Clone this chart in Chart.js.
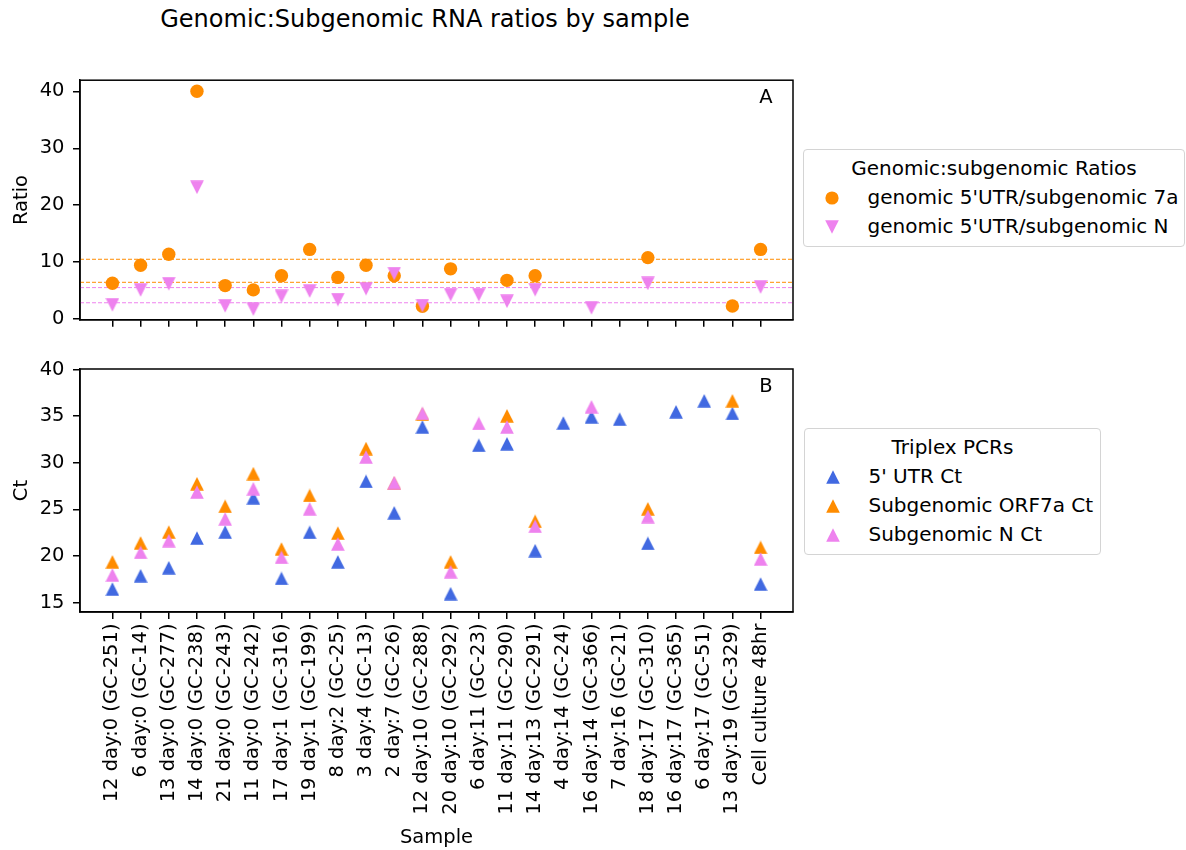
<!DOCTYPE html>
<html>
<head>
<meta charset="utf-8">
<title>Genomic:Subgenomic RNA ratios by sample</title>
<script src="https://cdn.jsdelivr.net/npm/chart.js@4"></script>
<style>
  html, body { margin: 0; padding: 0; background: #fff; }
  #page { position: relative; width: 1186px; height: 850px; font-family: "DejaVu Sans", sans-serif; color: #000; overflow: hidden; }
  #title { position: absolute; left: 0; top: 5px; width: 850px; text-align: center; font-size: 24px; line-height: 28px; }
  #page > canvas { position: absolute; left: 0; }
  .legend { position: absolute; box-sizing: border-box; border: 1.5px solid #d4d4d4; border-radius: 4px; padding: 4px 0 5px 0; font-size: 20px; line-height: 29px; background: #fff; }
  .legend .title { text-align: center; }
  .legend .row { position: relative; padding-left: 63.5px; white-space: nowrap; }
  .legend .row canvas { position: absolute; left: 20.5px; top: 7.5px; }
</style>
</head>
<body>
<div id="page">
  <div id="title">Genomic:Subgenomic RNA ratios by sample</div>
  <canvas id="ratioChart" width="800" height="280" style="top:60px"></canvas>
  <canvas id="ctChart" width="800" height="510" style="top:340px"></canvas>
  <div id="ratioLegend" class="legend" style="left:803px;top:149px;width:382px"></div>
  <div id="ctLegend" class="legend" style="left:804px;top:428px;width:297px"></div>
</div>
<script>
// Sample names along the shared x axis
var sampleLabels = [
  '12 day:0 (GC-251)', '6 day:0 (GC-14)', '13 day:0 (GC-277)', '14 day:0 (GC-238)',
  '21 day:0 (GC-243)', '11 day:0 (GC-242)', '17 day:1 (GC-316)', '19 day:1 (GC-199)',
  '8 day:2 (GC-25)', '3 day:4 (GC-13)', '2 day:7 (GC-26)', '12 day:10 (GC-288)',
  '20 day:10 (GC-292)', '6 day:11 (GC-23)', '11 day:11 (GC-290)', '14 day:13 (GC-291)',
  '4 day:14 (GC-24)', '16 day:14 (GC-366)', '7 day:16 (GC-21)', '18 day:17 (GC-310)',
  '16 day:17 (GC-365)', '6 day:17 (GC-51)', '13 day:19 (GC-329)', 'Cell culture 48hr'
];

// Panel A: genomic / subgenomic ratios (null = no value)
var ratio7a = [6.3, 9.48, 11.39, 40.0, 5.9, 5.15, 7.63, 12.25, 7.34, 9.48, 7.63, 2.26,
               8.84, null, 6.82, 7.63, null, null, null, 10.81, null, null, 2.32, 12.25];
var ratioN = [2.52, 5.12, 6.22, 23.14, 2.35, 1.77, 4.02, 4.94, 3.44, 5.35, 8.01, 2.4,
              4.31, 4.31, 3.15, 5.18, null, 2.0, null, 6.27, null, null, null, 5.64];
// dashed reference levels across panel A
var ratio7aLines = [10.52, 6.48];
var ratioNLines = [5.55, 2.89];

// Panel B: triplex PCR Ct values
var ctUTR = [16.45, 17.88, 18.74, 21.92, 22.56, 26.24, 17.59, 22.54, 19.37, 28.0, 24.63, 33.84,
             15.96, 31.87, 32.03, 20.57, 34.26, 34.92, 34.67, 21.35, 35.46, 36.64, 35.29, 16.99];
var ctORF7a = [19.37, 21.4, 22.56, 27.75, 25.33, 28.83, 20.75, 26.49, 22.45, 31.52, 27.8, 35.2,
               19.37, null, 35.03, 23.72, null, null, null, 25.06, null, null, 36.64, 20.92];
var ctN = [17.97, 20.39, 21.65, 26.85, 23.98, 27.21, 19.85, 25.06, 21.29, 30.61, 27.86, 35.29,
           18.31, 34.21, 33.84, 23.19, null, 36.0, null, 24.23, null, null, null, 19.68];

var ratioTicks = [0, 10, 20, 30, 40];
var ctTicks = [15, 20, 25, 30, 35, 40];

var ORANGE = '#ff8c00';
var VIOLET = '#ee82ee';
var BLUE = '#4169e1';
var FONT = '"DejaVu Sans", sans-serif';
var FONT_SIZE = 19.5;

Chart.defaults.font.family = FONT;
Chart.defaults.color = '#000';

function toPoints(values) {
  var pts = [];
  values.forEach(function(v, i) {
    if (v !== null) pts.push({ x: i, y: v });
  });
  return pts;
}

// Marker images, triangles centred on their bounding box like matplotlib
function makeMarker(shape, color) {
  var size = 14;
  var c = document.createElement('canvas');
  c.width = size;
  c.height = size;
  var ctx = c.getContext('2d');
  ctx.fillStyle = color;
  ctx.beginPath();
  if (shape === 'circle') {
    ctx.arc(size / 2, size / 2, 6.6, 0, Math.PI * 2);
  } else if (shape === 'up') {
    ctx.moveTo(size / 2, 0.2);
    ctx.lineTo(size - 0.2, size - 0.2);
    ctx.lineTo(0.2, size - 0.2);
  } else {
    ctx.moveTo(0.2, 0.2);
    ctx.lineTo(size - 0.2, 0.2);
    ctx.lineTo(size / 2, size - 0.2);
  }
  ctx.closePath();
  ctx.fill();
  return c;
}

// Full box round the plot area
var framePlugin = {
  id: 'frame',
  afterDraw: function(chart) {
    var a = chart.chartArea, ctx = chart.ctx;
    ctx.save();
    ctx.strokeStyle = '#000';
    ctx.lineWidth = 1.5;
    ctx.strokeRect(a.left, a.top, a.right - a.left, a.bottom - a.top);
    ctx.restore();
  }
};

// Horizontal dashed reference lines
var refLinePlugin = {
  id: 'refLines',
  beforeDatasetsDraw: function(chart, args, opts) {
    if (!opts.lines) return;
    var a = chart.chartArea, yScale = chart.scales.y, ctx = chart.ctx;
    opts.lines.forEach(function(line) {
      var py = yScale.getPixelForValue(line.value);
      ctx.save();
      ctx.strokeStyle = line.color;
      ctx.lineWidth = 1;
      ctx.setLineDash([4, 2]);
      ctx.beginPath();
      ctx.moveTo(a.left, py);
      ctx.lineTo(a.right, py);
      ctx.stroke();
      ctx.restore();
    });
  }
};

// Panel letter in the top right corner
var panelLabelPlugin = {
  id: 'panelLabel',
  afterDraw: function(chart, args, opts) {
    if (!opts.text) return;
    var a = chart.chartArea, ctx = chart.ctx;
    ctx.save();
    ctx.font = FONT_SIZE + 'px ' + FONT;
    ctx.fillStyle = '#000';
    ctx.textAlign = 'center';
    ctx.textBaseline = 'middle';
    ctx.fillText(opts.text, a.right - 27, a.top + 17.5);
    ctx.restore();
  }
};

Chart.register(framePlugin, refLinePlugin, panelLabelPlugin);

var axisGrid = { drawOnChartArea: false, drawTicks: true, tickLength: 7, lineWidth: 1.5, color: '#000' };
var axisBorder = { display: true, color: '#000', width: 1.5 };

function xScale(showLabels) {
  return {
    type: 'linear',
    min: -1.15,
    max: 24.15,
    afterBuildTicks: function(scale) {
      scale.ticks = sampleLabels.map(function(_, i) { return { value: i }; });
    },
    afterFit: function(scale) { scale.height = showLabels ? 238 : 19; },
    grid: axisGrid,
    border: axisBorder,
    ticks: {
      display: showLabels,
      autoSkip: false,
      minRotation: 90,
      maxRotation: 90,
      padding: 4.5,
      font: { size: FONT_SIZE },
      callback: function(v) { return sampleLabels[v]; }
    },
    title: { display: showLabels, text: 'Sample', font: { size: FONT_SIZE }, padding: { top: 0, bottom: 0 } }
  };
}

function yScale(title, min, max, ticks) {
  return {
    type: 'linear',
    min: min,
    max: max,
    afterBuildTicks: function(scale) {
      scale.ticks = ticks.map(function(v) { return { value: v }; });
    },
    afterFit: function(scale) { scale.width = 80; },
    grid: axisGrid,
    border: axisBorder,
    ticks: { padding: 8.5, font: { size: FONT_SIZE } },
    title: { display: true, text: title, font: { size: FONT_SIZE }, padding: { top: 10.5, bottom: 0 } }
  };
}

function baseOptions(padTop, xs, ys, pluginOpts) {
  var plugins = { legend: { display: false }, tooltip: { enabled: false } };
  Object.keys(pluginOpts).forEach(function(k) { plugins[k] = pluginOpts[k]; });
  return {
    responsive: false,
    animation: false,
    events: [],
    layout: { padding: { top: padTop, right: 7, bottom: 0, left: 0 } },
    plugins: plugins,
    scales: { x: xs, y: ys }
  };
}

var refLines = ratio7aLines.map(function(v) { return { value: v, color: ORANGE }; })
  .concat(ratioNLines.map(function(v) { return { value: v, color: VIOLET }; }));

var ratioChart = new Chart(document.getElementById('ratioChart'), {
  type: 'scatter',
  data: {
    datasets: [
      { label: "genomic 5'UTR/subgenomic 7a", legendShape: 'circle', data: toPoints(ratio7a),
        pointStyle: 'circle', pointRadius: 6.7, backgroundColor: ORANGE, borderWidth: 0, order: 2 },
      { label: "genomic 5'UTR/subgenomic N", legendShape: 'down', data: toPoints(ratioN),
        pointStyle: makeMarker('down', VIOLET), backgroundColor: VIOLET, borderWidth: 0, order: 1 }
    ]
  },
  options: baseOptions(19, xScale(false), yScale('Ratio', -0.1, 41.94, ratioTicks),
    { refLines: { lines: refLines }, panelLabel: { text: 'A' } })
});

var ctChart = new Chart(document.getElementById('ctChart'), {
  type: 'scatter',
  data: {
    datasets: [
      { label: "5' UTR Ct", legendShape: 'up', data: toPoints(ctUTR),
        pointStyle: makeMarker('up', BLUE), backgroundColor: BLUE, borderWidth: 0, order: 3 },
      { label: 'Subgenomic ORF7a Ct', legendShape: 'up', data: toPoints(ctORF7a),
        pointStyle: makeMarker('up', ORANGE), backgroundColor: ORANGE, borderWidth: 0, order: 2 },
      { label: 'Subgenomic N Ct', legendShape: 'up', data: toPoints(ctN),
        pointStyle: makeMarker('up', VIOLET), backgroundColor: VIOLET, borderWidth: 0, order: 1 }
    ]
  },
  options: baseOptions(29, xScale(true), yScale('Ct', 13.99, 40.05, ctTicks),
    { panelLabel: { text: 'B' } })
});

// HTML legend boxes built from the chart datasets
function buildLegend(id, title, chart) {
  var box = document.getElementById(id);
  var t = document.createElement('div');
  t.className = 'title';
  t.textContent = title;
  box.appendChild(t);
  chart.data.datasets.forEach(function(ds) {
    var row = document.createElement('div');
    row.className = 'row';
    row.appendChild(makeMarker(ds.legendShape, ds.backgroundColor));
    row.appendChild(document.createTextNode(ds.label));
    box.appendChild(row);
  });
}

buildLegend('ratioLegend', 'Genomic:subgenomic Ratios', ratioChart);
buildLegend('ctLegend', 'Triplex PCRs', ctChart);
</script>
</body>
</html>
